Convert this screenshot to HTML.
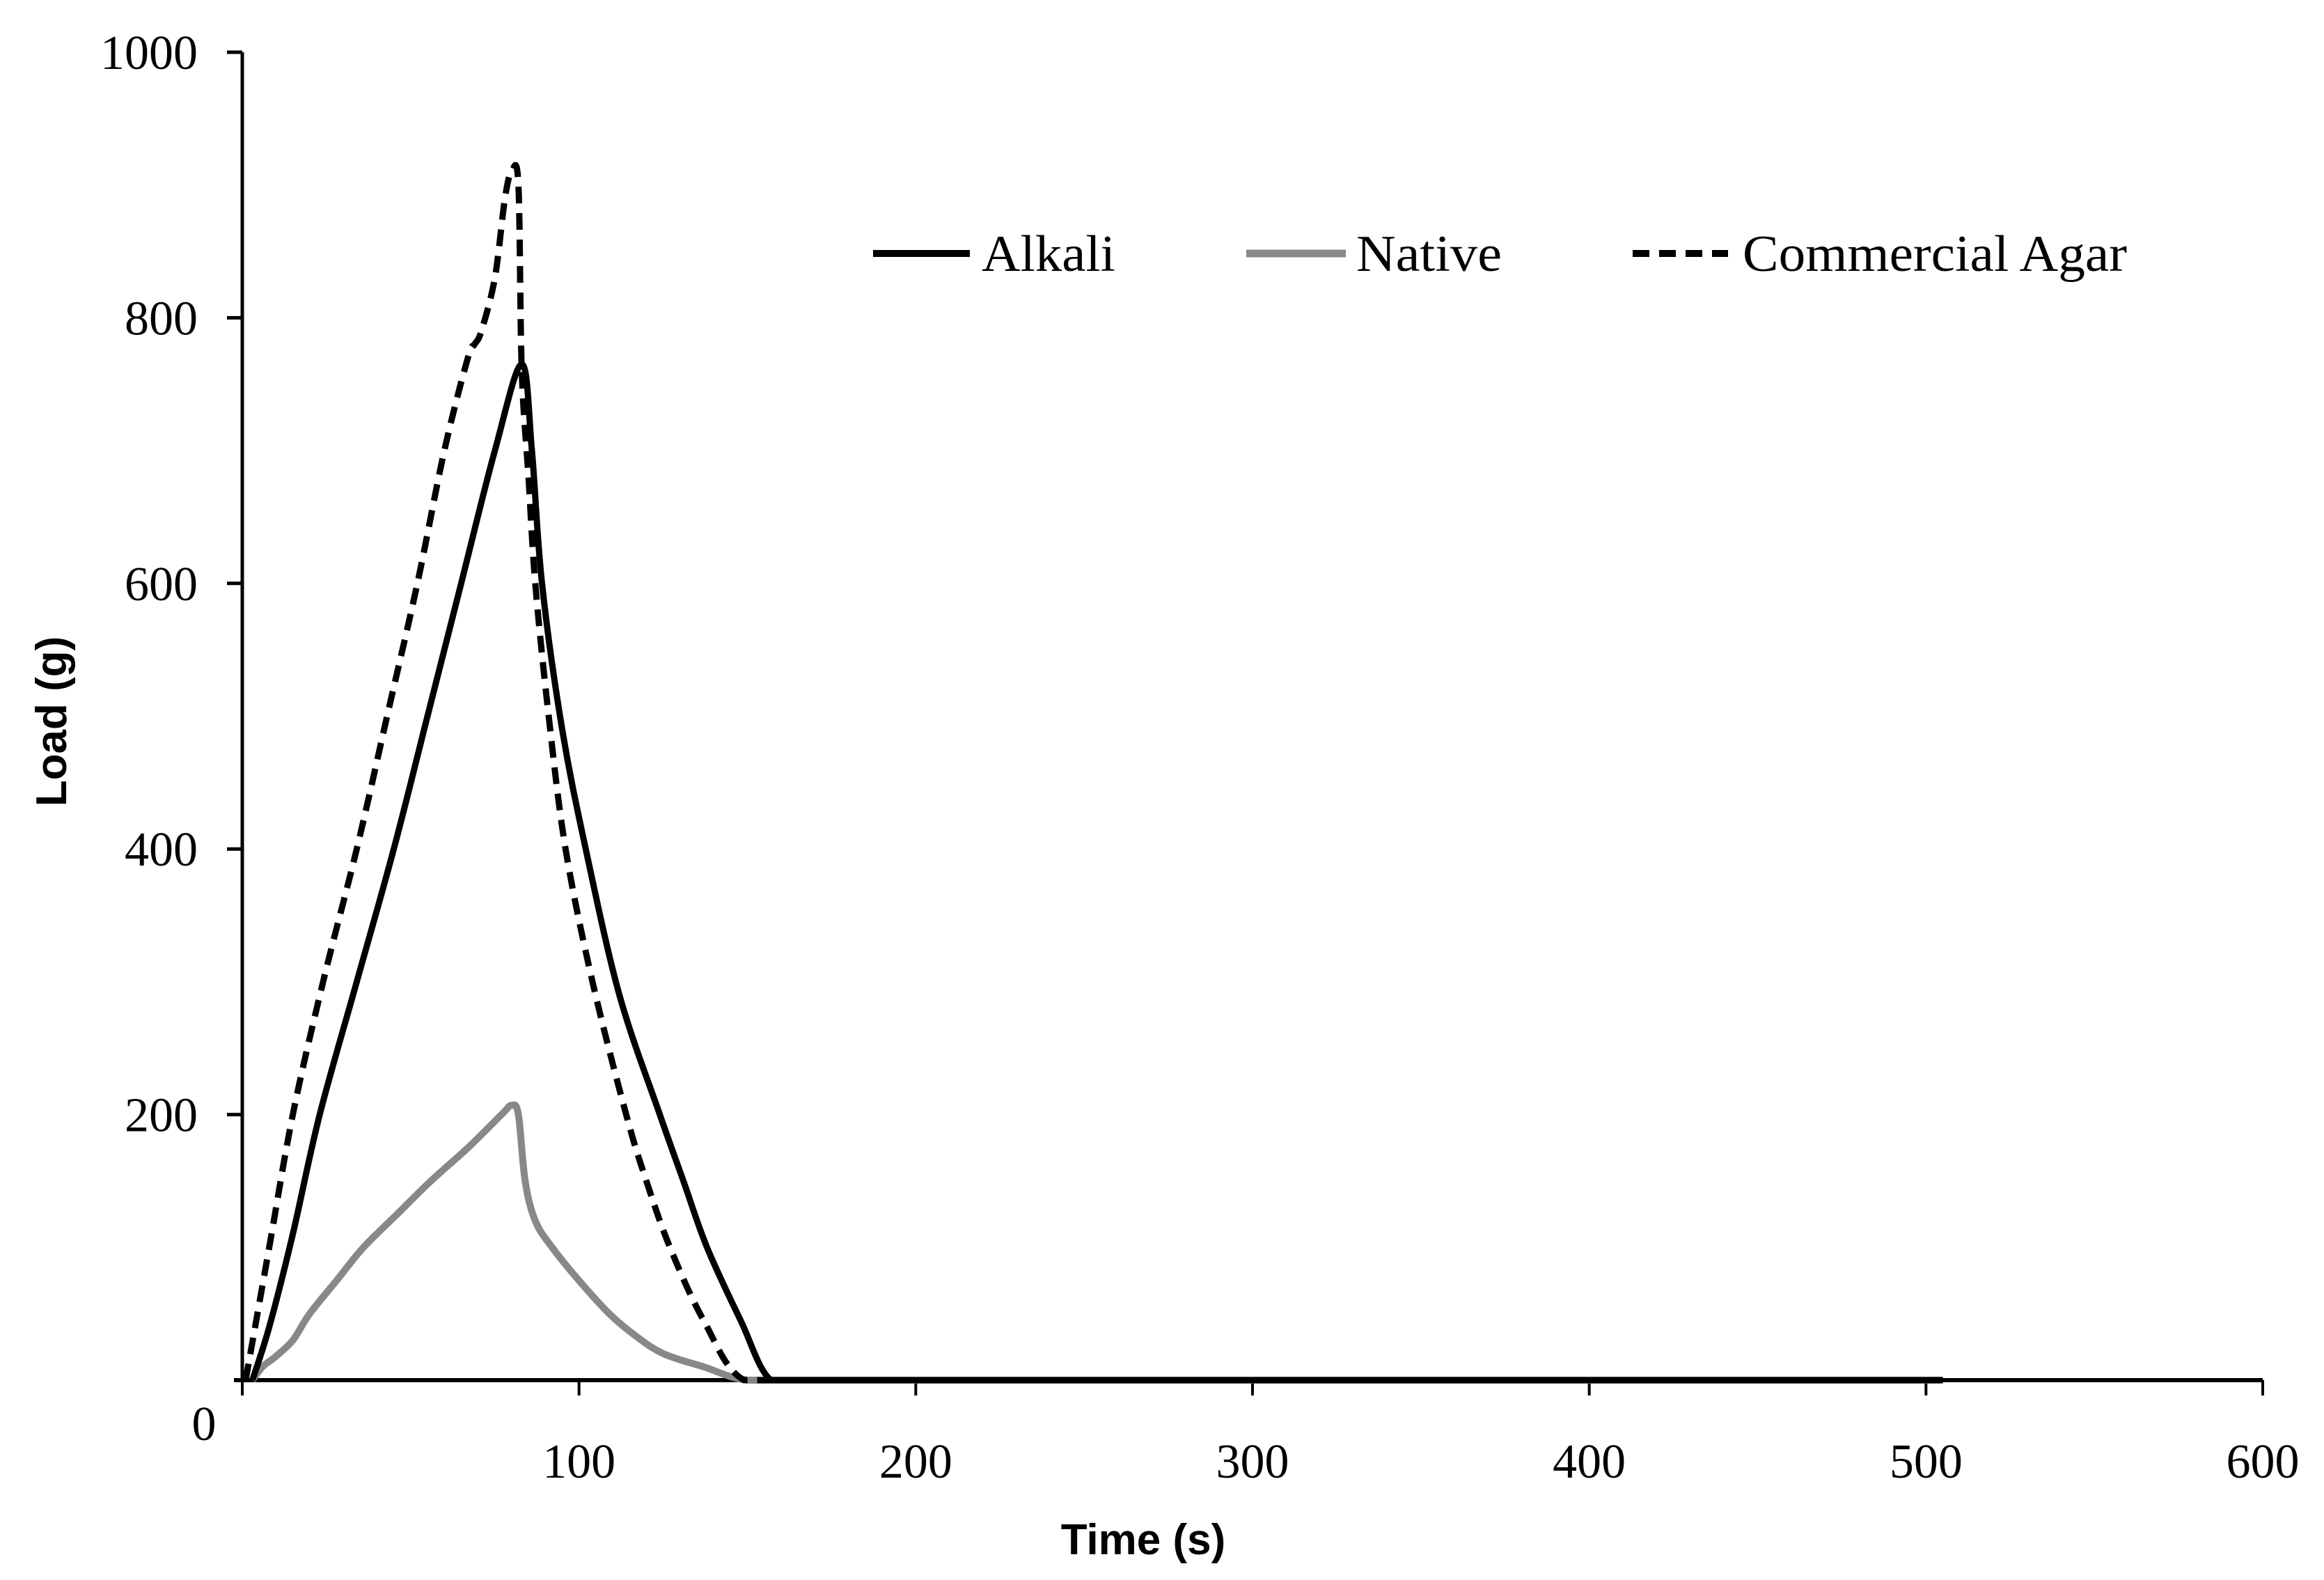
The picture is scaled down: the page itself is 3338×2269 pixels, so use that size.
<!DOCTYPE html>
<html><head><meta charset="utf-8"><style>
html,body{margin:0;padding:0;background:#fff}
svg{display:block}
</style></head><body>
<svg id="chart" width="3338" height="2269" viewBox="0 0 3338 2269" xmlns="http://www.w3.org/2000/svg">
<rect width="3338" height="2269" fill="#fff"/>
<g id="axes"></g>
<g id="series"></g>
<g id="legend"></g>
</svg>
<script>
const xTicks=[0,100,200,300,400,500,600];
const yTicks=[200,400,600,800,1000];
const alkaliT=[3,8,15,23,34,45,55,65,75,83,86,89,95,102,112,124,131,138,148,157,170,250,350,450,505];
const alkaliV=[0,40,110,200,300,400,500,600,700,765,700,600,490,400,290,200,150,100,45,0,0,0,0,0,0];
const nativeT=[3,6,10,15,20,28,36,46,56,67,77,80,82,84,87,92,100,109,117,125,137,150,170,250,350,450,505];
const nativeV=[0,10,18,30,50,75,100,125,150,175,200,207,200,150,120,100,75,50,33,20,10,0,0,0,0,0,0];
const agarT=[1,8,15,24,34,43,52,60,67,69,71,75,78,80,82,83,85,87,91,96,104,114,120,127,137,149,170,250,350,450,505];
const agarV=[0,100,200,300,400,500,600,700,770,780,790,830,890,910,900,760,680,600,500,400,300,200,150,100,45,0,0,0,0,0,0];

const X0=348,X1=3250,Y0=1982,Y1=75;
const sx=t=>X0+(t/600)*(X1-X0);
const sy=v=>Y0-(v/1000)*(Y0-Y1);
const NS="http://www.w3.org/2000/svg";
function mk(tag,attrs,parent,text){const e=document.createElementNS(NS,tag);for(const k in attrs)e.setAttribute(k,attrs[k]);if(text!==undefined)e.textContent=text;parent.appendChild(e);return e;}
const axes=document.getElementById('axes');
const ser=document.getElementById('series');
const leg=document.getElementById('legend');

let e=mk('line',{x1:X0,y1:Y1,x2:X0,y2:Y0,stroke:'#000','stroke-width':5},axes);


e=mk('line',{x1:X0-12,y1:Y0,x2:X1,y2:Y0,stroke:'#000','stroke-width':6},axes);


yTicks.forEach(v=>{
  let t=mk('line',{x1:X0-22,y1:sy(v),x2:X0,y2:sy(v),stroke:'#000','stroke-width':5},axes);
  
  
  let l=mk('text',{x:284,y:sy(v)+24,'text-anchor':'end','font-family':'"Liberation Serif",serif','font-size':70,fill:'#000'},axes,String(v));
  
  
});
xTicks.forEach(v=>{
  let t=mk('line',{x1:sx(v),y1:Y0,x2:sx(v),y2:Y0+22,stroke:'#000','stroke-width':4},axes);
  
  
  if(v>0){
    let l=mk('text',{x:sx(v),y:2122,'text-anchor':'middle','font-family':'"Liberation Serif",serif','font-size':70,fill:'#000'},axes,String(v));
    
    
  }
});
e=mk('text',{x:293,y:2068,'text-anchor':'middle','font-family':'"Liberation Serif",serif','font-size':70,fill:'#000'},axes,'0');


e=mk('text',{x:1642,y:2232,'text-anchor':'middle','font-family':'"Liberation Sans",sans-serif','font-weight':'bold','font-size':62,fill:'#000'},axes,'Time (s)');


e=mk('text',{x:0,y:0,'text-anchor':'middle','font-family':'"Liberation Sans",sans-serif','font-weight':'bold','font-size':62,fill:'#000',transform:'translate(95,1036) rotate(-90)'},axes,'Load (g)');



function path(T,V){
  const P=T.map((t,i)=>[sx(t),sy(V[i])]);
  let d='M'+P[0][0].toFixed(1)+','+P[0][1].toFixed(1);
  for(let i=0;i<P.length-1;i++){
    const p0=P[Math.max(0,i-1)],p1=P[i],p2=P[i+1],p3=P[Math.min(P.length-1,i+2)];
    const c1=[p1[0]+(p2[0]-p0[0])/6,p1[1]+(p2[1]-p0[1])/6];
    const c2=[p2[0]-(p3[0]-p1[0])/6,p2[1]-(p3[1]-p1[1])/6];
    if(c1[1]>Y0)c1[1]=Y0; if(c2[1]>Y0)c2[1]=Y0;
    d+=' C'+c1[0].toFixed(1)+','+c1[1].toFixed(1)+' '+c2[0].toFixed(1)+','+c2[1].toFixed(1)+' '+p2[0].toFixed(1)+','+p2[1].toFixed(1);
  }
  return d;
}
e=mk('path',{d:path(nativeT,nativeV),fill:'none',stroke:'#888','stroke-width':10,'stroke-linejoin':'round'},ser);


e=mk('path',{d:path(alkaliT,alkaliV),fill:'none',stroke:'#000','stroke-width':9,'stroke-linejoin':'round'},ser);


e=mk('path',{d:path(agarT,agarV),fill:'none',stroke:'#000','stroke-width':9,'stroke-dasharray':'24 14','stroke-linejoin':'round'},ser);



const LY=364;
e=mk('line',{x1:1254,y1:LY,x2:1393,y2:LY,stroke:'#000','stroke-width':10},leg);


e=mk('text',{x:1410,y:389,'font-family':'"Liberation Serif",serif','font-size':74,textLength:192,lengthAdjust:'spacingAndGlyphs'},leg,'Alkali');


e=mk('line',{x1:1790,y1:LY,x2:1933,y2:LY,stroke:'#888','stroke-width':11},leg);


e=mk('text',{x:1948,y:389,'font-family':'"Liberation Serif",serif','font-size':74,textLength:209,lengthAdjust:'spacingAndGlyphs'},leg,'Native');


e=mk('line',{x1:2345,y1:LY,x2:2482,y2:LY,stroke:'#000','stroke-width':10,'stroke-dasharray':'24 14'},leg);


e=mk('text',{x:2503,y:389,'font-family':'"Liberation Serif",serif','font-size':74,textLength:552,lengthAdjust:'spacingAndGlyphs'},leg,'Commercial Agar');


</script>
</body></html>
